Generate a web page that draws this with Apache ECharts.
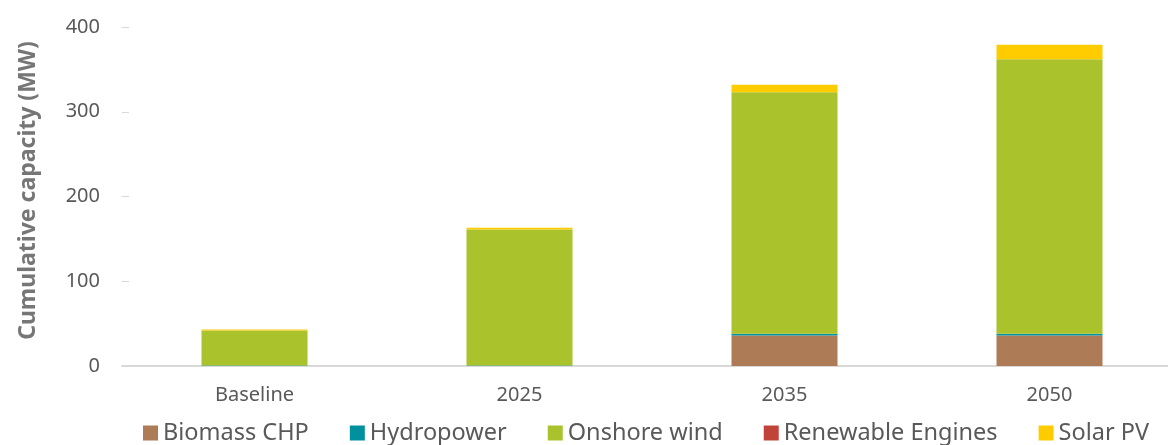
<!DOCTYPE html>
<html>
<head>
<meta charset="utf-8">
<script src="https://cdn.jsdelivr.net/npm/echarts@6/dist/echarts.min.js"></script>
<style>
  html, body { margin: 0; padding: 0; background: #fff; }
  #chart { width: 1168px; height: 445px; }
</style>
</head>
<body>
<div id="chart"></div>
<script>
// categories and series values (MW)
var categories = ['Baseline', '2025', '2035', '2050'];
var biomassChp = [0, 0, 36, 36];
var hydropower = [0.5, 0.5, 2, 2];
var onshoreWind = [41.5, 160.5, 285, 324];
var renewableEngines = [0, 0, 0, 0];
var solarPv = [1, 2, 9, 17];

var font = '"Noto Sans", "Open Sans", sans-serif';

function bar(name, data, color) {
  return {
    name: name,
    type: 'bar',
    stack: 'total',
    barWidth: '40%',
    data: data,
    itemStyle: { color: color }
  };
}

var chart = echarts.init(document.getElementById('chart'));
chart.setOption({
  animation: false,
  textStyle: { fontFamily: font },
  // plot area runs past the right edge, as in the cropped original
  grid: { left: 122, width: 1060, top: 27, bottom: 79, outerBoundsMode: 'none' },
  legend: {
    bottom: -5,
    left: 138,
    icon: 'rect',
    itemWidth: 15,
    itemHeight: 15,
    itemGap: 41,
    textStyle: { color: '#595959', fontSize: 23.5, fontFamily: font }
  },
  xAxis: {
    type: 'category',
    data: categories,
    axisLine: { lineStyle: { color: '#d9d9d9', width: 2 } },
    axisTick: { show: false },
    axisLabel: { color: '#595959', fontSize: 20, margin: 19 }
  },
  yAxis: {
    type: 'value',
    min: 0,
    max: 400,
    interval: 100,
    name: 'Cumulative capacity (MW)',
    nameLocation: 'middle',
    nameGap: 82,
    nameTextStyle: { color: '#767676', fontSize: 23, fontWeight: 'bold', padding: [0, 0, 0, 12] },
    axisLine: { show: false },
    axisTick: { show: true, inside: true, length: 7, lineStyle: { color: '#d9d9d9' } },
    splitLine: { show: false },
    axisLabel: { color: '#595959', fontSize: 20, margin: 22 }
  },
  series: [
    bar('Biomass CHP', biomassChp, '#ad7b55'),
    bar('Hydropower', hydropower, '#00909e'),
    bar('Onshore wind', onshoreWind, '#aac22b'),
    bar('Renewable Engines', renewableEngines, '#c0443a'),
    bar('Solar PV', solarPv, '#ffcc00')
  ]
});
</script>
</body>
</html>
